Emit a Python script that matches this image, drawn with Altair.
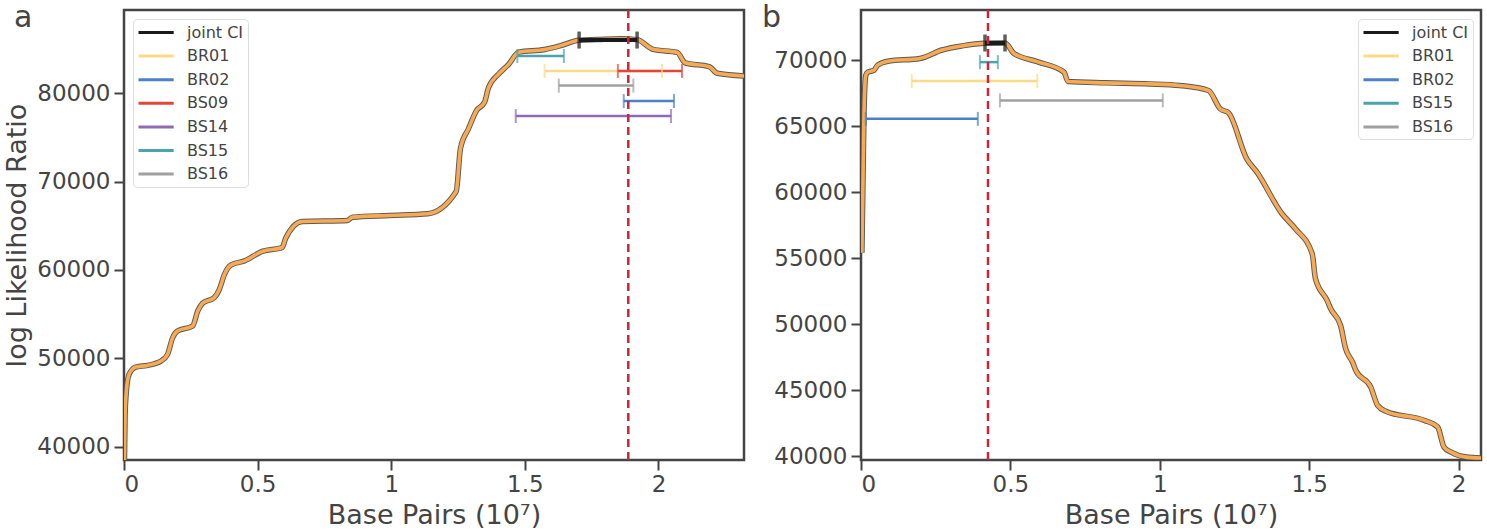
import altair as alt
import pandas as pd

# ---------------- data (x in units of 10^7 base pairs) ----------------
a_x = [0.0015, 0.004, 0.009, 0.019, 0.044, 0.088, 0.138, 0.163, 0.182, 0.200,
       0.257, 0.276, 0.294, 0.338, 0.357, 0.376, 0.401, 0.451, 0.517, 0.592,
       0.605, 0.667, 0.836, 0.855, 0.992, 1.136, 1.243, 1.259, 1.289, 1.319,
       1.349, 1.364, 1.401, 1.439, 1.477, 1.574, 1.634, 1.703, 1.770, 1.860,
       1.920, 1.980, 2.070, 2.100, 2.190, 2.220, 2.320]
a_y = [38000, 43500, 46300, 48190, 49010, 49200, 49690, 50450, 52330, 53090,
       53660, 55360, 56230, 56870, 57810, 59510, 60570, 61020, 62090, 62540,
       63590, 65480, 65590, 65970, 66160, 66350, 68870, 73730, 75970, 78020,
       78960, 80630, 82130, 83250, 84630, 84930, 85370, 85970, 86050, 86150,
       86050, 84950, 84600, 83430, 82990, 82240, 81940]

b_x = [0.003, 0.010, 0.016, 0.023, 0.043, 0.056, 0.090, 0.197, 0.271, 0.338,
       0.415, 0.482, 0.512, 0.592, 0.679, 0.693, 0.820, 0.966, 1.067, 1.163,
       1.202, 1.230, 1.291, 1.325, 1.409, 1.454, 1.510, 1.521, 1.560, 1.572,
       1.605, 1.622, 1.645, 1.656, 1.706, 1.729, 1.757, 1.886, 1.930, 1.951,
       1.975, 2.026, 2.080]
b_y = [55400, 66000, 68850, 69100, 69230, 69620, 69920, 70130, 70770, 71080,
       71280, 71300, 70510, 69870, 69100, 68380, 68280, 68200, 68080, 67700,
       66310, 66010, 62520, 61520, 58360, 57220, 55330, 53430, 51790, 51160,
       49900, 48130, 47120, 46490, 45230, 43840, 43390, 42700, 42200, 40680,
       40300, 39920, 39850]

a_ci_names = ["joint CI", "BS15", "BR01", "BS09", "BS16", "BR02", "BS14"]
a_ci_lo = [1.703, 1.472, 1.574, 1.848, 1.627, 1.870, 1.466]
a_ci_hi = [1.920, 1.646, 2.013, 2.088, 1.906, 2.058, 2.047]
a_ci_y = [86000, 84200, 82500, 82500, 80850, 79100, 77400]
a_mle = [1.887]

b_ci_names = ["joint CI", "BS15", "BR01", "BS16", "BR02"]
b_ci_lo = [0.415, 0.398, 0.170, 0.465, 0.016]
b_ci_hi = [0.482, 0.458, 0.590, 1.010, 0.391]
b_ci_y = [71300, 69850, 68420, 66950, 65550]
b_mle = [0.425]

a_legend = ["joint CI", "BR01", "BR02", "BS09", "BS14", "BS15", "BS16"]
b_legend = ["joint CI", "BR01", "BR02", "BS15", "BS16"]
palette = {"joint CI": "#1a1a1a", "BR01": "#fdd985", "BR02": "#4c80c8",
           "BS09": "#e5443a", "BS14": "#8e6bb5", "BS15": "#4aa3ae",
           "BS16": "#a0a0a0"}

x_ticks = [0, 0.5, 1, 1.5, 2]
a_y_ticks = [40000, 50000, 60000, 70000, 80000]
b_y_ticks = [40000, 45000, 50000, 55000, 60000, 65000, 70000]

FONT = "DejaVu Sans"
TXT = "#444444"


def panel(cx, cy, names, lo, hi, yv, mle, xdom, ydom, yticks, legend_names,
          legend_orient, letter, letter_x, ytitle):
    xs = alt.Scale(domain=xdom, nice=False, zero=False)
    ys = alt.Scale(domain=ydom, nice=False, zero=False)
    xaxis = alt.Axis(values=x_ticks, format="~g", title="Base Pairs (10⁷)")
    if ytitle:
        yaxis = alt.Axis(values=yticks, format="d", title=ytitle)
    else:
        yaxis = alt.Axis(values=yticks, format="d", title=None)

    curve = pd.DataFrame({"x": cx, "y": cy})
    ci = pd.DataFrame({"name": names, "lo": lo, "hi": hi, "yv": yv})
    caps = pd.DataFrame({"name": names + names, "cx": lo + hi, "yv": yv + yv})
    caps_joint = caps[caps["name"] == "joint CI"]
    caps_other = caps[caps["name"] != "joint CI"]
    mdf = pd.DataFrame({"m": mle})
    ldf = pd.DataFrame({"t": [letter]})

    cscale = alt.Scale(domain=legend_names, range=[palette[n] for n in legend_names])

    base_x = alt.X("x:Q", scale=xs, axis=xaxis)
    base_y = alt.Y("y:Q", scale=ys, axis=yaxis)

    outline = alt.Chart(curve).mark_line(color="#5a5a5a", strokeWidth=5.5,
                                         clip=True, interpolate="monotone").encode(x=base_x, y=base_y)
    fill = alt.Chart(curve).mark_line(color="#f9aa50", strokeWidth=3.6,
                                      clip=True, interpolate="monotone").encode(x=base_x, y=base_y)

    bars = alt.Chart(ci).mark_rule(clip=True).encode(
        x=alt.X("lo:Q", scale=xs),
        x2="hi:Q",
        y=alt.Y("yv:Q", scale=ys),
        color=alt.Color("name:N", scale=cscale, title=None,
                        legend=alt.Legend(orient=legend_orient)),
        strokeWidth=alt.condition(alt.datum.name == "joint CI", alt.value(4), alt.value(2.5)),
    )
    cap_o = alt.Chart(caps_other).mark_tick(orient="vertical", thickness=2, size=14).encode(
        x=alt.X("cx:Q", scale=xs), y=alt.Y("yv:Q", scale=ys),
        color=alt.Color("name:N", scale=cscale, legend=None))
    cap_j = alt.Chart(caps_joint).mark_tick(orient="vertical", thickness=3.5, size=17).encode(
        x=alt.X("cx:Q", scale=xs), y=alt.Y("yv:Q", scale=ys),
        color=alt.Color("name:N", scale=cscale, legend=None))
    mle_rule = alt.Chart(mdf).mark_rule(color="#cc2438", strokeWidth=2.5,
                                        strokeDash=[8, 5]).encode(x=alt.X("m:Q", scale=xs))
    lab = alt.Chart(ldf).mark_text(fontSize=30, font=FONT, color=TXT, align="left",
                                   baseline="top").encode(
        x=alt.value(letter_x), y=alt.value(-7), text="t:N")

    return alt.layer(outline, fill, bars, cap_o, cap_j, mle_rule, lab).properties(
        width=620, height=450)


pa = panel(a_x, a_y, a_ci_names, a_ci_lo, a_ci_hi, a_ci_y, a_mle, [0, 2.32],
           [38500, 89400], a_y_ticks, a_legend, "top-left", "a", -110,
           "log Likelihood Ratio")
pb = panel(b_x, b_y, b_ci_names, b_ci_lo, b_ci_hi, b_ci_y, b_mle, [0, 2.075],
           [39700, 73800], b_y_ticks, b_legend, "top-right", "b", -99, None)

chart = alt.hconcat(pa, pb, spacing=14).resolve_scale(color="independent").configure(
    font=FONT,
    padding={"left": 2, "top": 1, "right": 2, "bottom": 0},
).configure_view(
    stroke="#444444", strokeWidth=2.5
).configure_axis(
    grid=False, domain=False, ticks=True, tickColor=TXT, tickWidth=2, tickSize=10,
    labelFont=FONT, labelFontSize=23, labelColor=TXT, labelPadding=3,
    titleFont=FONT, titleFontSize=27, titleColor=TXT, titleFontWeight="normal",
    titlePadding=6,
).configure_axisY(
    labelPadding=4, titlePadding=5,
).configure_legend(
    offset=8.5, fillColor="white", strokeColor="#dddddd", cornerRadius=4, padding=4,
    labelFont=FONT, labelFontSize=16, labelColor=TXT, symbolType="M-1,0H3.4",
    symbolSize=256, symbolStrokeWidth=3, rowPadding=5.6, labelOffset=31,
)

chart.save("out.html", embed_options={"renderer": "svg", "actions": False})
